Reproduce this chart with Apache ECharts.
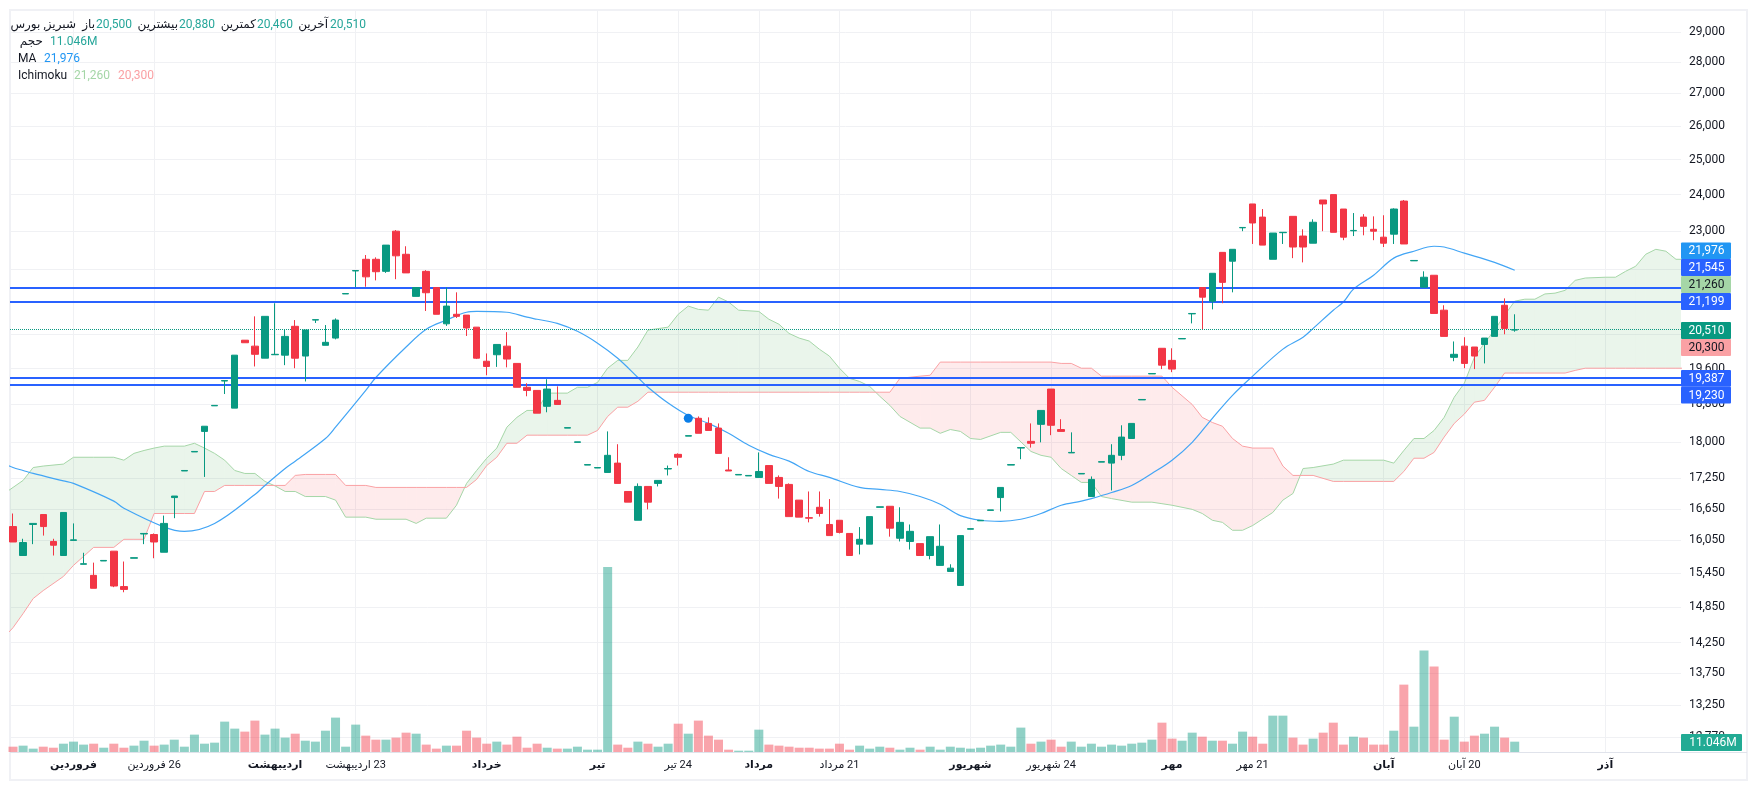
<!DOCTYPE html>
<html>
<head>
<meta charset="utf-8">
<title>شبریز</title>
<script src="https://cdn.jsdelivr.net/npm/echarts@6/dist/echarts.min.js"></script>
<style>
html,body{margin:0;padding:0;background:#fff;}
#chart{width:1757px;height:790px;}
</style>
</head>
<body>
<div id="chart"></div>
<script>
// open, close, low, high
var candles = [
[16310,16020,16020,16560],[15770,16010,15770,16080],[16350,16370,15980,16370],[16540,16310,16140,16540],[16030,15960,15770,16080],
[15770,16580,15770,16580],[16050,16060,16050,16370],[15610,15620,15610,15820],[15410,15180,15180,15640],[15670,15680,15670,15680],
[15850,15220,15200,15850],[15210,15160,15110,15660],[15720,15730,15720,15730],[16170,16180,15980,16180],[16160,16020,15720,16180],
[15830,16370,15830,16520],[16870,16900,16470,16900],[17400,17410,17400,17410],[17790,17800,17790,17800],[18220,18330,17280,18330],
[18770,18780,18770,18780],[19320,19330,19030,19330],[18720,19910,18720,19910],[20260,20200,20200,20260],[20120,19930,19650,20830],
[19840,20830,19840,20830],[19920,19930,19920,21150],[19910,20350,19680,20510],[20590,19840,19610,20740],[19890,20500,19310,20500],
[20740,20750,20670,20750],[20140,20210,20140,20620],[20310,20740,20280,20780],[21380,21390,21380,21390],[21960,21970,21550,21970],
[22260,21810,21560,22370],[22260,21940,21720,22310],[21950,22630,21910,22630],[23000,22350,21750,23030],[22390,21910,21910,22600],
[21320,21540,21320,21540],[21950,21410,20960,21980],[21540,20880,20880,21540],[20650,21080,20600,21540],[20880,20830,20790,21420],
[20860,20550,20360,20860],[20570,19840,19820,20570],[19770,19650,19450,19950],[19920,20160,19640,20160],[20120,19820,19630,20450],
[19720,19180,19180,19720],[19180,19110,18980,19270],[19110,18610,18610,19110],[18760,19140,18630,19360],[18890,18800,18800,19200],
[18290,18300,18290,18300],[17990,18000,17990,18000],[17520,17530,17520,17530],[17460,17470,17460,17470],[17370,17720,17370,18220],
[17560,17150,17150,17950],[16990,16780,16780,16990],[16430,17090,16430,17150],[17090,16780,16640,17090],[17150,17210,17090,17210],
[17440,17450,17310,17510],[17740,17680,17510,17760],[18120,18130,18120,18130],[18500,18180,18180,18540],[18390,18240,18240,18520],
[18290,17760,17760,18390],[17420,17400,17400,17680],[17320,17330,17320,17330],[17300,17310,17300,17310],[17270,17390,17270,17780],
[17510,17150,17150,17510],[17270,17090,16850,17310],[17130,16500,16500,17150],[16820,16490,16490,16820],[16480,16470,16390,16990],
[16680,16560,16500,16990],[16350,16140,16140,16840],[16430,16200,16180,16430],[16180,15770,15770,16180],[15980,16070,15790,16300],
[15980,16500,15980,16500],[16680,16690,16680,16690],[16700,16280,16120,16700],[16090,16390,16030,16680],[16030,16220,15880,16350],
[15990,15770,15770,15990],[15770,16120,15700,16120],[15590,15940,15590,16350],[15480,15540,15480,15610],[15230,16140,15230,16140],
[16260,16270,16260,16270],[16420,16430,16420,16430],[16620,16630,16620,16630],[16870,17070,16600,17070],[17520,17530,17520,17530],
[17870,17880,17640,17880],[18010,17970,17880,18390],[18370,18670,17990,18670],[19140,18350,18140,19140],[18260,18220,18220,18480],
[17770,17780,17770,18200],[17340,17350,17340,17350],[16890,17230,16890,17290],[17580,17590,17580,17590],[17560,17720,17010,17950],
[17720,18100,17620,18350],[18070,18390,18070,18390],[18900,18910,18900,18910],[19480,19490,19480,19490],[20070,19680,19590,20070],
[19790,19590,19520,20070],[20290,20300,20290,20300],[20890,20900,20660,20900],[21540,21300,20520,21540],[21200,21900,21000,21900],
[22440,21670,21150,22440],[22210,22520,21420,22520],[23090,23100,23000,23100],[23740,23220,22660,23740],[23380,22630,22630,23600],
[22260,22950,22260,22950],[22960,22970,22660,22970],[23400,22580,22290,23400],[22870,22580,22180,23050],[22680,23240,22680,23320],
[23850,23740,23000,23850],[24000,22970,22970,24000],[23600,22840,22760,23600],[23010,23020,22870,23490],[23380,23130,22890,23460],
[23050,23000,22760,23400],[22840,22680,22580,23430],[22920,23600,22660,23620],[23820,22660,22660,23850],[22220,22230,22220,22230],
[21550,21800,21550,21950],[21850,20900,20900,21850],[20980,20350,20350,21100],[19860,19930,19770,20230],[20120,19720,19610,20330],
[20100,19890,19590,20100],[20160,20310,19720,20310],[20350,20830,20350,20830],[21100,20540,20400,21270],[20500,20510,20460,20880]
];

// volume, millions
var volumes = [
5.7,6.8,3.6,5.7,4.6,8.9,11.1,7.9,8.9,4.6,8.9,4.6,6.8,12.1,6.8,7.9,13.2,5.7,18.6,8.9,
10,32.5,25,21.8,33.6,18.6,25,15.4,19.6,12.1,11.1,22.8,36.8,5.7,29.3,17.5,13.2,13.2,15.4,20.7,
19.6,7.9,3.6,6.8,6.8,22.8,15.4,8.9,11.1,7.9,16.4,4.6,8.9,4.6,3.6,3.6,5.7,2.5,2.5,198,
7.9,4.6,11.1,8.9,5.7,8.9,30.3,19.6,33.6,17.5,13.2,2.5,1.4,1.4,23.9,7.9,6.8,5.7,4.6,4.6,
3.6,3.6,8.9,2.5,6.8,3.6,5.7,4.6,2.5,4.6,2.5,5.7,2.5,5.7,4.6,3.6,4.6,6.8,7.9,5.7,
26.1,8.9,11.1,13.2,5.7,11.1,5.7,8.9,5.7,7.9,6.8,8.9,10,13.2,31.4,14.3,12.1,20.7,16.4,12.1,
12.1,8.9,21.8,16.4,8.9,38.9,38.9,15.4,7.9,14.3,20.7,31.4,7.9,16.4,15.4,7.9,7.9,22.8,72.1,27.1,
108.5,91.4,13.2,37.8,11.1,17.5,19.6,27.1,15.4,11.046
];

// MA, read at these candle numbers
var maIndex = [-1,0,1,2,5,6,10,11,15,17,20,24,25,27,28,31,32,35,36,39,41,43,45,46,49,51,52,54,56,58,60,62,63,65,67,69,71,73,75,77,79,81,84,86,88,90,92,94,96,98,100,102,104,106,107,109,111,113,115,117,119,121,123,126,128,129,131,132,133,135,137,139,141,142,144,147,149];
var maValues = [17560,17470,17410,17350,17200,17150,16800,16660,16300,16220,16370,16930,17110,17450,17600,18070,18310,19110,19400,20100,20520,20740,20930,20950,20930,20810,20760,20660,20470,20190,19840,19400,19180,18830,18560,18390,18180,17930,17740,17600,17390,17270,17070,17030,16990,16890,16740,16520,16430,16410,16450,16560,16720,16800,16850,16970,17110,17350,17620,17990,18500,19000,19430,20050,20330,20540,20980,21180,21500,21850,22290,22470,22600,22580,22420,22180,21976];

// Ichimoku spans, read at these candle numbers
var cloudIndex = [-1,0,1,2,3,5,6,8,10,11,12,13,14,15,17,18,19,20,21,22,23,24,25,26,27,28,29,31,32,33,35,36,39,40,41,43,44,45,46,47,48,49,50,51,52,53,55,56,57,58,59,60,61,62,63,65,66,67,68,69,70,71,72,74,75,76,77,78,79,80,81,82,83,84,85,86,87,88,90,91,92,93,94,95,96,98,99,101,102,103,104,105,106,107,108,109,111,113,114,115,117,118,119,120,121,122,123,125,126,127,128,129,131,132,136,137,138,139,140,141,142,143,144,145,146,147,148,149,150,151,152,153,154,155,156,158,159,160,161,162,163,164,165,166];
var spanA = [16930,17070,17210,17470,17500,17540,17680,17680,17680,17620,17760,17820,17870,17910,17910,17970,17870,17760,17620,17410,17350,17350,17190,17100,16990,16990,16890,16890,16820,16490,16490,16450,16450,16370,16470,16470,16720,17150,17410,17660,17870,18310,18520,18670,18670,19050,19050,19180,19180,19290,19610,19790,19790,20100,20500,20570,20880,21080,21000,20980,21300,21180,20980,20950,20760,20640,20420,20310,20240,20050,19890,19610,19380,19310,19200,18980,18780,18540,18290,18290,18180,18260,18220,18070,18050,18200,18200,17800,17720,17680,17450,17310,17170,17170,16890,16850,16780,16780,16750,16720,16640,16560,16430,16390,16240,16240,16330,16580,16820,16950,17450,17470,17540,17620,17620,17560,17820,18070,18070,18240,18520,18960,19270,19860,20190,20500,20860,21200,21250,21250,21380,21400,21470,21720,21780,21800,21800,21950,22080,22390,22520,22470,22260,22260];
var spanB = [14320,14500,14740,15000,15140,15390,15590,15920,15920,16070,16070,16070,16560,16560,16560,16560,16990,16990,17110,17110,17110,17110,17110,17110,17110,17310,17330,17330,17330,17110,17110,17070,17070,17070,17070,17070,17070,17070,17230,17510,17680,17970,17970,18140,18140,18140,18140,18140,18140,18240,18540,18740,18740,18870,19070,19070,19070,19070,19070,19070,19070,19070,19070,19070,19070,19070,19070,19070,19070,19070,19070,19070,19070,19070,19070,19070,19070,19380,19430,19450,19750,19750,19750,19750,19750,19750,19750,19750,19750,19750,19720,19720,19610,19610,19430,19430,19430,19430,19430,19180,18800,18520,18410,18330,18070,17910,17870,17870,17500,17310,17310,17310,17190,17190,17190,17190,17390,17660,17660,17780,18100,18390,18590,18850,18890,19180,19500,19500,19500,19500,19500,19500,19500,19560,19610,19610,19610,19610,19610,19610,19610,19610,19610,19610];

var priceTicks = [29000,28000,27000,26000,25000,24000,23000,22000,21200,20400,19600,18800,18000,17250,16650,16050,15450,14850,14250,13750,13250,12770];
var levelLines = [21545,21199,19387,19230];
var lastPrice = 20510;
var alertIndex = [67];
var alertValue = [18500];

var timeTicks = [6,14,26,34,47,58,66,74,82,95,103,115,123,136,144,158];
var timeLabels = ['فروردین','26 فروردین','اردیبهشت','23 اردیبهشت','خرداد','تیر','24 تیر','مرداد','21 مرداد','شهریور','24 شهریور','مهر','21 مهر','آبان','20 آبان','آذر'];

var tagTexts = ['21,976','21,545','21,260','21,199','20,510','20,300','19,387','19,230','11.046M'];

var UP = '#089981', DOWN = '#f23645', BLUE = '#2962ff';
var GRID = '#f0f1f4';
var FONT = 'Roboto, "DejaVu Sans", sans-serif';

function txt(x, y, text, fill, align){
    return {
        type: 'text', z: 120, silent: true,
        style: {
            x: x, y: y, text: text, fill: fill,
            align: align || 'left', verticalAlign: 'middle',
            font: '12px ' + FONT
        }
    };
}

// pieces of the header, left to right
var G_A = '#a5d6a7', R_B = '#faa1a4', MA_C = '#2196f3', TEXT = '#131722', VAL = '#26a69a';
var graphics = [
    {type:'rect', z:1, silent:true, shape:{x:10,y:10,width:1737,height:770}, style:{fill:'none',stroke:'#f0f1f5',lineWidth:2}},
    {type:'line', z:1, silent:true, shape:{x1:10,y1:752.5,x2:1747,y2:752.5}, style:{stroke:'#e0e3eb',lineWidth:1}},
    txt(76,25,'شبریز, بورس',TEXT,'right'),
    txt(95,25,'باز',TEXT,'right'), txt(96,25,'20,500',VAL),
    txt(178,25,'بیشترین',TEXT,'right'), txt(179,25,'20,880',VAL),
    txt(256,25,'کمترین',TEXT,'right'), txt(257,25,'20,460',VAL),
    txt(328,25,'آخرین',TEXT,'right'), txt(330,25,'20,510',VAL),
    txt(43,42,'حجم',TEXT,'right'), txt(50,42,'11.046M',VAL),
    txt(18,59,'MA',TEXT), txt(44,59,'21,976',MA_C),
    txt(18,76,'Ichimoku',TEXT), txt(74,76,'21,260',G_A), txt(118,76,'20,300',R_B)
];

// right side price tags
var tagTop = [242.5,259,276,293,322,339,370,386.7,734];
var tagHeight = [16.5,17,17,17,17,17,16.7,16.7,17];
var tagFill = [MA_C,BLUE,G_A,BLUE,UP,R_B,BLUE,BLUE,'#22ab94'];
var tagInk = ['#fff','#fff',TEXT,'#fff','#fff',TEXT,'#fff','#fff','#fff'];
tagTexts.forEach(function(t, i){
    var wide = t.indexOf('M') > 0;
    graphics.push({
        type:'rect', z:110, silent:true,
        shape:{x:1681, y:tagTop[i], width: wide ? 61 : 50, height:tagHeight[i], r:1},
        style:{fill:tagFill[i]}
    });
    graphics.push(txt(wide ? 1713 : 1706.5, tagTop[i] + tagHeight[i] / 2 + 0.5, t, tagInk[i], 'center'));
});

// fill between the two spans, green or pink, split where they cross
var cloudData = [];
for (var c = 0; c < cloudIndex.length - 1; c++) {
    cloudData.push([cloudIndex[c], spanA[c], spanB[c], cloudIndex[c + 1], spanA[c + 1], spanB[c + 1]]);
}
function cloudItem(params, api){
    var a0 = api.coord([api.value(0), api.value(1)]);
    var b0 = api.coord([api.value(0), api.value(2)]);
    var a1 = api.coord([api.value(3), api.value(4)]);
    var b1 = api.coord([api.value(3), api.value(5)]);
    var d0 = a0[1] - b0[1], d1 = a1[1] - b1[1];
    var green = 'rgba(67,160,71,0.11)', pink = 'rgba(242,54,69,0.10)';
    var kids = [];
    function poly(pts, fill){
        kids.push({type:'polygon', shape:{points:pts}, style:{fill:fill}, silent:true});
    }
    if (d0 * d1 < 0) {
        var t = d0 / (d0 - d1);
        var m = [a0[0] + (a1[0] - a0[0]) * t, a0[1] + (a1[1] - a0[1]) * t];
        poly([a0, m, b0], d0 < 0 ? green : pink);
        poly([m, a1, b1], d1 < 0 ? green : pink);
    } else {
        poly([a0, a1, b1, b0], (d0 + d1) < 0 ? green : pink);
    }
    return {type:'group', children:kids};
}

function pairs(xs, ys){
    return xs.map(function(x, i){ return [x, ys[i]]; });
}

var dom = document.getElementById('chart');
var myChart = echarts.init(dom, null, {renderer:'canvas'});
var xMin = -0.3, xMax = 165.5;

var option = {
    animation: false,
    backgroundColor: '#fff',
    textStyle: {fontFamily: FONT},
    grid: [
        {left:10, right:76, top:11, bottom:38},
        {left:10, right:76, top:11, bottom:38}
    ],
    xAxis: [
        {
            type:'value', gridIndex:0, min:xMin, max:xMax,
            axisLine:{show:false},
            splitLine:{show:true, lineStyle:{color:GRID, width:1}},
            axisTick:{show:false, customValues:timeTicks},
            axisLabel:{
                show:true, customValues:timeTicks, margin:8, color:TEXT, hideOverlap:false,
                showMinLabel:true, showMaxLabel:true,
                formatter:function(v){
                    var t = timeLabels[timeTicks.indexOf(Math.round(v))] || '';
                    return /^\d/.test(t) ? '{d|\u200f' + t + '}' : '{m|' + t + '}';
                },
                rich:{
                    d:{fontFamily:FONT, fontSize:11, color:TEXT},
                    m:{fontFamily:FONT, fontSize:11, fontWeight:'bold', color:TEXT}
                }
            }
        },
        {type:'value', gridIndex:1, min:xMin, max:xMax, show:false}
    ],
    yAxis: [
        {
            type:'log', logBase:10, gridIndex:0, position:'right', min:12547, max:29716,
            axisLine:{show:false},
            axisTick:{show:false, customValues:priceTicks},
            splitLine:{show:true, lineStyle:{color:GRID, width:1}},
            axisLabel:{
                customValues:priceTicks, margin:8, color:TEXT, fontSize:12, fontFamily:FONT,
                showMinLabel:true, showMaxLabel:true, hideOverlap:false,
                formatter:function(v){
                    return (Math.round(v / 10) * 10).toLocaleString('en-US');
                }
            }
        },
        {type:'value', gridIndex:1, min:0, max:793, show:false}
    ],
    graphic: {elements: graphics},
    series: [
        {
            name:'volume', type:'bar', xAxisIndex:1, yAxisIndex:1, barWidth:9, z:1, silent:true,
            data: volumes.map(function(v, i){
                var up = candles[i][1] >= candles[i][0];
                return {value:[i, v], itemStyle:{color: up ? 'rgba(8,153,129,0.45)' : 'rgba(242,54,69,0.45)'}};
            })
        },
        {
            name:'cloud', type:'custom', xAxisIndex:0, yAxisIndex:0, clip:true, z:2, silent:true,
            renderItem:cloudItem, data:cloudData,
            encode:{x:0, y:1}
        },
        {
            name:'spanA', type:'line', data:pairs(cloudIndex, spanA), showSymbol:false, z:3, silent:true,
            lineStyle:{color:G_A, width:1}
        },
        {
            name:'spanB', type:'line', data:pairs(cloudIndex, spanB), showSymbol:false, z:3, silent:true,
            lineStyle:{color:R_B, width:1}
        },
        {
            name:'MA', type:'line', data:pairs(maIndex, maValues), showSymbol:false, smooth:0.35, z:4, silent:true,
            lineStyle:{color:'#42a5f5', width:1.2}
        },
        {
            name:'price', type:'candlestick', z:5, barWidth:7, silent:true,
            encode:{x:0, y:[1,2,3,4]},
            data: candles.map(function(c, i){ return [i, c[0], c[1], c[2], c[3]]; }),
            itemStyle:{color:UP, color0:DOWN, borderColor:UP, borderColor0:DOWN, borderWidth:1},
            markLine:{
                silent:true, symbol:'none', animation:false, label:{show:false},
                data: levelLines.map(function(v){
                    return {yAxis:v, lineStyle:{color:BLUE, width:2, type:'solid'}};
                }).concat([{yAxis:lastPrice, lineStyle:{color:UP, width:1, type:'dotted'}}])
            }
        },
        {
            name:'alert', type:'scatter', data:pairs(alertIndex, alertValue), z:6, silent:true,
            symbolSize:9, itemStyle:{color:'#0a7ee8', opacity:1}
        }
    ]
};
myChart.setOption(option, true);
window.onresize = function(){ myChart.resize(); };
</script>
</body>
</html>
